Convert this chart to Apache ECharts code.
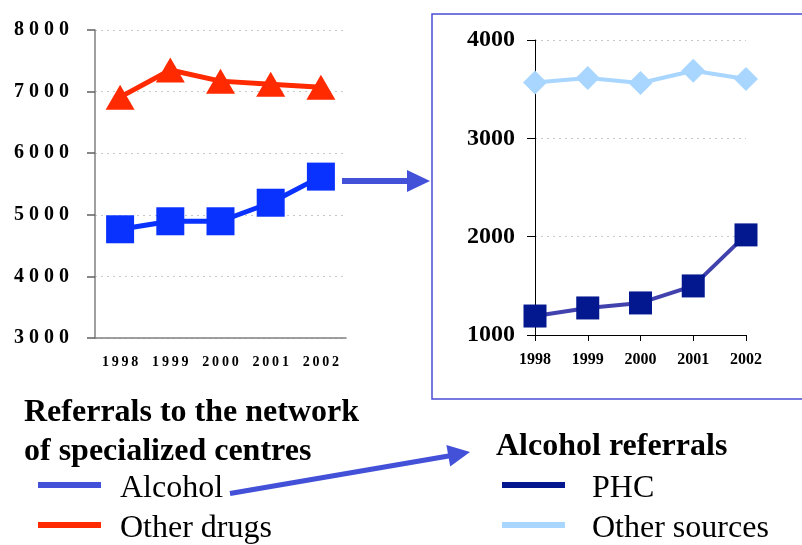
<!DOCTYPE html>
<html><head><meta charset="utf-8">
<script src="https://cdn.jsdelivr.net/npm/echarts@6/dist/echarts.min.js"></script>
<style>html,body{margin:0;padding:0;background:#fff}#c{width:802px;height:545px}</style>
</head><body><div id="c"></div>
<script>
const years = ['1998','1999','2000','2001','2002'];
const alcohol = [4765, 4895, 4895, 5196, 5620];
const otherDrugs = [6910, 7350, 7170, 7120, 7070];
const phc = [1193, 1275, 1326, 1499, 2018];
const otherSources = [3568, 3613, 3562, 3687, 3603];
const leftTicks = {min: 3000, max: 8000, step: 1000};
const rightTicks = {min: 1000, max: 4000, step: 1000};

const FONT = "'Liberation Serif','Times New Roman',serif";
const chart = echarts.init(document.getElementById('c'), null, {renderer: 'canvas'});
const spaced = v => String(v).split('').join(' ');
const thin = v => String(v).split('').join('\u2009');
const C = {alc: '#0A32FF', drg: '#FF2A00', phc: '#03178F', phcLine: '#4242AE', oth: '#A8D6FF', arrow: '#4350D8'};

function legendBox(left, padLeft, data) {
  return {
    left: left, top: 465, width: 300, height: 120, padding: 0,
    orient: 'vertical', itemWidth: 63, itemHeight: 6, itemGap: 0, icon: 'rect',
    selectedMode: false,
    data: data,
    formatter: name => '{t|' + name + '}',
    textStyle: {
      fontFamily: FONT, fontSize: 32, color: '#000',
      rich: {t: {fontFamily: FONT, fontSize: 32, color: '#000', lineHeight: 32, padding: [8, 0, 0, padLeft]}}
    }
  };
}

chart.setOption({
  animation: false,
  grid: [
    {left: 95, top: 30, width: 251, height: 308},
    {left: 535, top: 40, width: 211, height: 295}
  ],
  xAxis: [
    {type: 'category', gridIndex: 0, data: years, boundaryGap: true,
     axisLine: {lineStyle: {color: '#808080', width: 1.5}},
     axisTick: {length: 6, lineStyle: {color: '#606060', width: 1.5}},
     axisLabel: {formatter: thin, fontFamily: FONT, fontWeight: 'bold', fontSize: 14, color: '#000', margin: 17}},
    {type: 'category', gridIndex: 1, data: years, boundaryGap: false,
     axisLine: {lineStyle: {color: '#000', width: 1}},
     axisTick: {length: 6, lineStyle: {color: '#000'}},
     axisLabel: {fontFamily: FONT, fontWeight: 'bold', fontSize: 16, color: '#000', margin: 17}}
  ],
  yAxis: [
    {type: 'value', gridIndex: 0, min: leftTicks.min, max: leftTicks.max, interval: leftTicks.step,
     axisLine: {show: true, lineStyle: {color: '#808080', width: 1.5}},
     axisTick: {show: true, length: 8, lineStyle: {color: '#606060', width: 1.5}},
     splitLine: {lineStyle: {color: '#c8c8c8', type: [2, 4], width: 1}},
     axisLabel: {formatter: spaced, fontFamily: FONT, fontWeight: 'bold', fontSize: 20, color: '#000', margin: 26}},
    {type: 'value', gridIndex: 1, min: rightTicks.min, max: rightTicks.max, interval: rightTicks.step,
     axisLine: {show: true, lineStyle: {color: '#000', width: 1}},
     axisTick: {show: true, length: 8, lineStyle: {color: '#000'}},
     splitLine: {lineStyle: {color: '#c8c8c8', type: [2, 4], width: 1}},
     axisLabel: {formatter: v => String(v), fontFamily: FONT, fontWeight: 'bold', fontSize: 24, color: '#000', margin: 20}}
  ],
  legend: [
    legendBox(38, 14, [{name: 'Alcohol', itemStyle: {color: C.arrow}}, {name: 'Other drugs', itemStyle: {color: C.drg}}]),
    legendBox(502, 22, [{name: 'PHC', itemStyle: {color: C.phc}}, {name: 'Other sources', itemStyle: {color: C.oth}}])
  ],
  series: [
    {name: 'Alcohol', type: 'line', xAxisIndex: 0, yAxisIndex: 0, data: alcohol,
     symbol: 'rect', symbolSize: 28, lineStyle: {color: C.alc, width: 5}, itemStyle: {color: C.alc}},
    {name: 'Other drugs', type: 'line', xAxisIndex: 0, yAxisIndex: 0, data: otherDrugs,
     symbol: 'triangle', symbolSize: [29, 25], lineStyle: {color: C.drg, width: 5}, itemStyle: {color: C.drg}},
    {name: 'PHC', type: 'line', xAxisIndex: 1, yAxisIndex: 1, data: phc,
     symbol: 'rect', symbolSize: 23, lineStyle: {color: C.phcLine, width: 4}, itemStyle: {color: C.phc}},
    {name: 'Other sources', type: 'line', xAxisIndex: 1, yAxisIndex: 1, data: otherSources,
     symbol: 'diamond', symbolSize: 24, lineStyle: {color: C.oth, width: 4}, itemStyle: {color: C.oth}}
  ],
  graphic: [
    {type: 'rect', shape: {x: 432, y: 14, width: 420, height: 385}, z: -1,
     style: {fill: 'none', stroke: '#4B4BD6', lineWidth: 1.5}},
    {type: 'line', shape: {x1: 342, y1: 181, x2: 410, y2: 181}, style: {stroke: C.arrow, lineWidth: 6}},
    {type: 'polygon', shape: {points: [[407, 170], [430, 181], [407, 192]]}, style: {fill: C.arrow}},
    {type: 'line', shape: {x1: 230, y1: 493.5, x2: 450, y2: 455.7}, style: {stroke: C.arrow, lineWidth: 5}},
    {type: 'polygon', shape: {points: [[470, 452], [450.2, 466.5], [446.4, 444.9]]}, style: {fill: C.arrow}},
    {type: 'text', left: 24, top: 397, style: {text: 'Referrals to the network', font: "bold 32px " + FONT, fill: '#000'}},
    {type: 'text', left: 24, top: 436, style: {text: 'of specialized centres', font: "bold 32px " + FONT, fill: '#000'}},
    {type: 'text', left: 496, top: 431, style: {text: 'Alcohol referrals', font: "bold 32px " + FONT, fill: '#000'}}
  ]
});
</script></body></html>
